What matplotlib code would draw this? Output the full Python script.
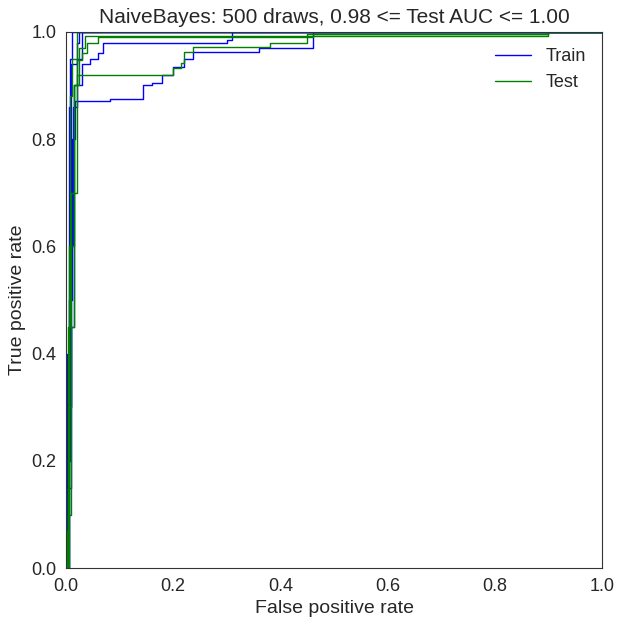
import matplotlib
matplotlib.use("Agg")
import matplotlib.pyplot as plt
import seaborn as sns

sns.set_style("white")
plt.rcParams['font.family'] = ['Liberation Sans', 'DejaVu Sans']
plt.rcParams['font.size'] = 13

train_curves = [
    ([0, 0.004, 0.008, 0.012, 0.017, 0.082, 0.083, 0.138, 0.144, 0.16, 0.18, 0.2, 0.22, 0.237, 0.35, 0.36, 0.44, 0.46, 0.9, 1.0],
     [0, 0.2, 0.5, 0.8, 0.871, 0.871, 0.875, 0.875, 0.9, 0.905, 0.92, 0.935, 0.95, 0.963, 0.963, 0.97, 0.97, 1.0, 1.0, 1.0]),
    ([0, 0.006, 0.01, 0.014, 0.02, 0.03, 0.045, 0.06, 0.069, 0.269, 0.30, 0.31, 1.0],
     [0, 0.3, 0.6, 0.86, 0.9, 0.94, 0.95, 0.96, 0.979, 0.979, 0.985, 1.0, 1.0]),
    ([0, 0.005, 0.01, 0.015, 0.02, 0.03, 0.03, 1.0],
     [0, 0.15, 0.45, 0.9, 0.95, 0.99, 1.0, 1.0]),
    ([0, 0.003, 0.006, 0.01, 0.02, 0.025, 1.0],
     [0, 0.25, 0.5, 0.94, 0.98, 1.0, 1.0]),
    ([0, 0.002, 0.005, 0.008, 0.012, 0.012, 1.0],
     [0, 0.4, 0.86, 0.95, 0.99, 1.0, 1.0]),
]
test_curves = [
    ([0, 0.004, 0.01, 0.015, 0.02, 0.185, 0.2, 0.215, 0.22, 0.237, 0.375, 0.38, 0.437, 0.45, 0.9, 1.0],
     [0, 0.1, 0.45, 0.9, 0.92, 0.92, 0.933, 0.942, 0.963, 0.972, 0.972, 0.98, 0.98, 0.995, 1.0, 1.0]),
    ([0, 0.005, 0.01, 0.02, 0.03, 0.04, 0.06, 0.45, 0.46, 0.9, 1.0],
     [0, 0.3, 0.7, 0.948, 0.96, 0.98, 0.99, 0.99, 0.995, 1.0, 1.0]),
    ([0, 0.002, 0.004, 0.008, 0.012, 0.02, 0.02, 1.0],
     [0, 0.07, 0.45, 0.88, 0.95, 0.99, 1.0, 1.0]),
    ([0, 0.003, 0.006, 0.015, 0.025, 0.035, 0.035, 0.9, 1.0],
     [0, 0.15, 0.6, 0.9, 0.97, 0.99, 0.993, 1.0, 1.0]),
]

fig, ax = plt.subplots(figsize=(6.22, 6.23), dpi=100)
for i, (x, y) in enumerate(train_curves):
    ax.step(x, y, where="post", color="blue", lw=1, label="Train" if i == 0 else None)
for i, (x, y) in enumerate(test_curves):
    ax.step(x, y, where="post", color="green", lw=1, label="Test" if i == 0 else None)
ax.set_xlim(0, 1)
ax.set_ylim(0, 1)
ax.set_xlabel("False positive rate", fontsize=14)
ax.set_ylabel("True positive rate", fontsize=14)
ax.set_title("NaiveBayes: 500 draws, 0.98 <= Test AUC <= 1.00", fontsize=15)
ax.tick_params(labelsize=13)
ax.legend(loc="upper right", frameon=False, fontsize=13)
for s in ax.spines.values():
    s.set_color("#333333")
plt.subplots_adjust(left=0.106, right=0.968, top=0.949, bottom=0.088)
fig.savefig("out.png", dpi=100)
